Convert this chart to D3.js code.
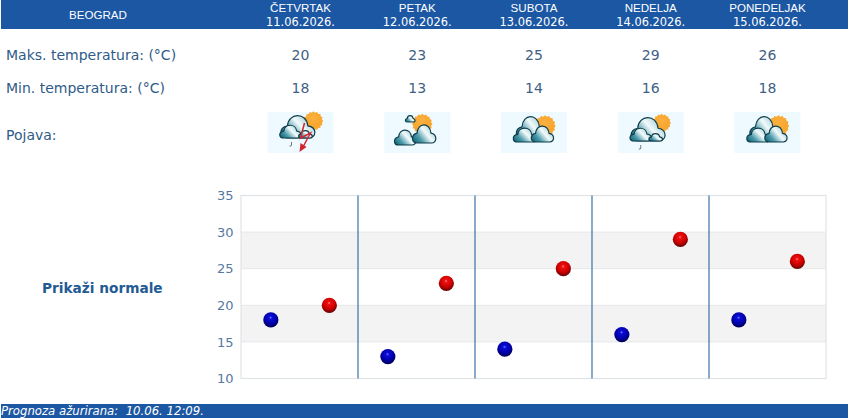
<!DOCTYPE html>
<html><head><meta charset="utf-8">
<script src="https://cdn.jsdelivr.net/npm/d3@7"></script>
<style>html,body{margin:0;padding:0;background:#fff;overflow:hidden}svg{display:block}text{white-space:pre}</style>
</head><body><svg id="c" width="850" height="420"></svg>
<script>
const city = "BEOGRAD";
const days = ["ČETVRTAK","PETAK","SUBOTA","NEDELJA","PONEDELJAK"];
const dates = ["11.06.2026.","12.06.2026.","13.06.2026.","14.06.2026.","15.06.2026."];
const maxTemps = [20,23,25,29,26];
const minTemps = [18,13,14,16,18];
const icons = ["storm","partly","cloudy","shower","cloudy"];
const yTicks = [10,15,20,25,30,35];
const rowLabels = ["Maks. temperatura: (°C)","Min. temperatura: (°C)","Pojava:"];
const normalsLabel = "Prikaži normale";
const footer = "Prognoza ažurirana:  10.06. 12:09.";

const BLUE = "#1c57a3", TXT = "#2f5b88", VAL = "#3f5f85", VERD = "DejaVu Sans";
const svg = d3.select("#c");
const defs = svg.append("defs");

function radial(id, stops){
  const g = defs.append("radialGradient").attr("id",id).attr("cx","48%").attr("cy","35%").attr("r","65%");
  stops.forEach(([o,c])=>g.append("stop").attr("offset",o).attr("stop-color",c));
}
radial("ballRed",[["0%","#ff8a8a"],["16%","#ee0f0f"],["60%","#cc0000"],["100%","#600505"]]);
radial("ballBlue",[["0%","#6f7cff"],["16%","#0c0cd8"],["60%","#0000aa"],["100%","#000050"]]);
radial("sun",[["0%","#fbb040"],["75%","#f7a52c"],["100%","#f5b85c"]]);
const cg = defs.append("linearGradient").attr("id","cloud").attr("x1","0").attr("y1","0.9").attr("x2","1").attr("y2","0.3");
[["0%","#0d6476"],["30%","#4c9aaa"],["62%","#f2fafb"],["85%","#bcdde4"],["100%","#5ea3b2"]].forEach(([o,c])=>cg.append("stop").attr("offset",o).attr("stop-color",c));

// header and footer bars
svg.append("rect").attr("x",1).attr("y",0).attr("width",847).attr("height",29).attr("fill",BLUE);
svg.append("rect").attr("x",1).attr("y",404).attr("width",847).attr("height",14).attr("fill",BLUE);
svg.append("text").attr("x",98).attr("y",19).attr("text-anchor","middle").attr("fill","#fff")
  .attr("font-family","Liberation Sans").attr("font-size",11.6).text(city);
svg.append("text").attr("x",1).attr("y",415).attr("fill","#fff").attr("font-family",VERD)
  .attr("font-style","italic").attr("font-size",11.7).text(footer);

// table columns
const colX = d3.scalePoint().domain(days).range([300.5,767.5]);
days.forEach((d,i)=>{
  const x = colX(d);
  svg.append("text").attr("x",x).attr("y",11.5).attr("text-anchor","middle").attr("fill","#fff")
    .attr("font-family","Liberation Sans").attr("font-size",11.6).text(d);
  svg.append("text").attr("x",x).attr("y",26).attr("text-anchor","middle").attr("fill","#fff")
    .attr("font-family",VERD).attr("font-size",11.4).text(dates[i]);
  svg.append("text").attr("x",x).attr("y",59.5).attr("text-anchor","middle").attr("fill",VAL)
    .attr("font-family",VERD).attr("font-size",14).text(maxTemps[i]);
  svg.append("text").attr("x",x).attr("y",92.5).attr("text-anchor","middle").attr("fill",VAL)
    .attr("font-family",VERD).attr("font-size",14).text(minTemps[i]);
  drawIcon(x-33, 112, icons[i]);
});
[59.5,92.5,139.5].forEach((y,i)=>svg.append("text").attr("x",6).attr("y",y).attr("fill",TXT)
  .attr("font-family",VERD).attr("font-size",14).text(rowLabels[i]));
svg.append("text").attr("x",42).attr("y",292.5).attr("fill","#235a94").attr("font-family",VERD)
  .attr("font-weight","bold").attr("font-size",13.7).text(normalsLabel);

function cloudPath(x,b,w,h){
  const X=f=>x+f*w, Y=f=>b-f*h;
  return `M${X(.2)},${b} C${X(-.04)},${b} ${X(-.06)},${Y(.5)} ${X(.2)},${Y(.58)} `+
         `C${X(.22)},${Y(1.2)} ${X(.74)},${Y(1.25)} ${X(.78)},${Y(.58)} `+
         `C${X(1.05)},${Y(.52)} ${X(1.04)},${b} ${X(.8)},${b} Z`;
}
function cloud(g,x,b,w,h){
  g.append("path").attr("d",cloudPath(x,b,w,h)).attr("fill","url(#cloud)")
   .attr("stroke","#0f3d4a").attr("stroke-width",1.2).attr("stroke-linejoin","round");
}
function sun(g,cx,cy,r){
  const n=16, pts=d3.range(n*2).map(k=>{const a=k*Math.PI/n, R=k%2?r:r+1.3;return [cx+R*Math.cos(a),cy+R*Math.sin(a)]});
  g.append("path").attr("d",d3.line()(pts)+"Z").attr("fill","url(#sun)");
}
function drop(g,x,y){
  g.append("path").attr("d",`M${x},${y} v3 q0,1.5 -2,1`).attr("fill","none").attr("stroke","#5d6b70").attr("stroke-width",0.9);
}
function drawIcon(x,y,type){
  const g = svg.append("g").attr("transform",`translate(${x},${y})`);
  g.append("rect").attr("width",66).attr("height",41).attr("fill","#eefaff");
  if(type==="cloudy"){
    sun(g,44,14,9.5);
    cloud(g,15,27,30,21); cloud(g,12,30,24,13); cloud(g,30,30,23,15);
  } else if(type==="shower"){
    sun(g,44,11,8);
    cloud(g,13,29,35,22); cloud(g,12,29,22,12); cloud(g,31,29,14,7);
    drop(g,23,33);
  } else if(type==="storm"){
    sun(g,46,9,8.5);
    cloud(g,13,26,35,21); cloud(g,12,26,22,12); cloud(g,31,26,14,7);
    drop(g,24,30);
    g.append("path").attr("d","M37,11 L33,26 L43,21 L36,34").attr("fill","none").attr("stroke","#d2232f").attr("stroke-width",1.5);
    g.append("path").attr("d","M32,40 L39,35 L33,31 Z").attr("fill","#d2232f");
  } else {
    sun(g,38,12,9);
    cloud(g,21,10,10,6);
    cloud(g,10,33,22,14); cloud(g,28,31,24,17);
  }
}

// chart
const chart = {l:241,r:826,t:195.5,b:378.5};
const x = d3.scaleBand().domain(days).range([chart.l,chart.r]);
const y = d3.scaleLinear().domain([10,35]).range([chart.b,chart.t]);
const plot = svg.append("g");
[[15,20],[25,30]].forEach(([a,b])=>plot.append("rect").attr("x",chart.l).attr("width",chart.r-chart.l)
  .attr("y",y(b)).attr("height",y(a)-y(b)).attr("fill","#f3f3f3"));
yTicks.forEach(t=>plot.append("line").attr("x1",chart.l).attr("x2",chart.r).attr("y1",y(t)).attr("y2",y(t))
  .attr("stroke","#e4e6e8").attr("stroke-width",1));
plot.append("rect").attr("x",chart.l).attr("y",chart.t).attr("width",chart.r-chart.l).attr("height",chart.b-chart.t)
  .attr("fill","none").attr("stroke","#dfe3e8").attr("stroke-width",1.2);
days.slice(1).forEach(d=>plot.append("line").attr("x1",x(d)).attr("x2",x(d)).attr("y1",chart.t).attr("y2",chart.b)
  .attr("stroke","#3d70a4").attr("stroke-width",1.2));

const axis = svg.append("g").attr("transform",`translate(${chart.l},0)`)
  .call(d3.axisLeft(y).tickValues(yTicks).tickSize(0).tickPadding(7.5));
axis.select(".domain").remove();
axis.selectAll("text").attr("fill","#55789f").attr("font-family",VERD).attr("font-size",13);

const r = 7.6, dx = 0.6;
svg.append("g").selectAll("circle").data(minTemps).join("circle")
  .attr("cx",(d,i)=>x(days[i])+x.bandwidth()*0.25+dx).attr("cy",d=>y(d)).attr("r",r).attr("fill","url(#ballBlue)");
svg.append("g").selectAll("circle").data(maxTemps).join("circle")
  .attr("cx",(d,i)=>x(days[i])+x.bandwidth()*0.75+dx).attr("cy",d=>y(d)).attr("r",r).attr("fill","url(#ballRed)");
</script></body></html>
